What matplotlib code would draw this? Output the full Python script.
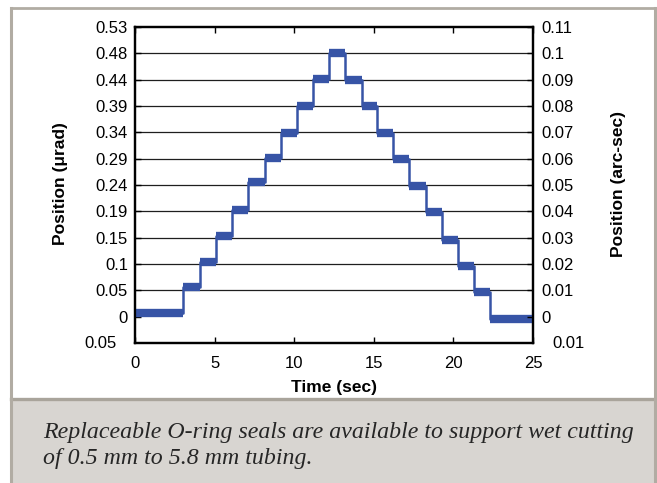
import matplotlib
matplotlib.use('Agg')
import matplotlib.pyplot as plt
from matplotlib.patches import Rectangle
from matplotlib.lines import Line2D
from matplotlib.transforms import offset_copy

# ---- data ----
step_times = [0, 3.02, 4.08, 5.09, 6.09, 7.10, 8.17, 9.17, 10.15, 11.20, 12.19,
              13.19, 14.24, 15.22, 16.23, 17.21, 18.26, 19.27, 20.27, 21.27, 22.30, 25]
plateau_levels = [0.007, 0.054, 0.101, 0.149, 0.196, 0.248, 0.293, 0.339, 0.388, 0.438, 0.485,
                  0.436, 0.388, 0.338, 0.290, 0.241, 0.192, 0.142, 0.094, 0.046, -0.004]

left_tick_values = [0, 0.0485, 0.097, 0.1454, 0.1939, 0.2424, 0.2909, 0.3394,
                    0.3878, 0.4363, 0.4848, 0.5333]
left_tick_labels = ['0', '0.05', '0.1', '0.15', '0.19', '0.24', '0.29', '0.34',
                    '0.39', '0.44', '0.48', '0.53']
left_bottom_value = -0.0485
left_bottom_label = '0.05'

right_tick_values = [0, 0.01, 0.02, 0.03, 0.04, 0.05, 0.06, 0.07, 0.08, 0.09, 0.10, 0.11]
right_tick_labels = ['0', '0.01', '0.02', '0.03', '0.04', '0.05', '0.06', '0.07',
                     '0.08', '0.09', '0.1', '0.11']
right_bottom_value = -0.01
right_bottom_label = '0.01'

x_ticks = [0, 5, 10, 15, 20, 25]

caption_lines = ["Replaceable O-ring seals are available to support wet cutting",
                 "of 0.5 mm to 5.8 mm tubing."]

W, H = 657, 483
LINE = '#3754a6'
SANS = ['Liberation Sans', 'DejaVu Sans']

fig = plt.figure(figsize=(W / 100, H / 100), dpi=100)
fig.patch.set_facecolor('white')

def fr(x, y):
    return x / W, 1 - y / H

# caption box and outer frame
border = '#b1aca3'
fig.add_artist(Rectangle((11 / W, 0), (655 - 11) / W, (483 - 399) / H,
                         transform=fig.transFigure, facecolor='#d8d5d1',
                         edgecolor='none', zorder=0))
fig.add_artist(Line2D([11 / W, 655 / W], [1 - 399 / H] * 2, transform=fig.transFigure,
                      color='#a9a49b', lw=2.4, zorder=1))
fig.add_artist(Line2D([11 / W, 655 / W], [1 - 8 / H] * 2, transform=fig.transFigure,
                      color=border, lw=2.0, zorder=1))
fig.add_artist(Line2D([11 / W] * 2, [0, 1 - 8 / H], transform=fig.transFigure,
                      color=border, lw=2.2, zorder=1))
fig.add_artist(Line2D([655 / W] * 2, [0, 1 - 8 / H], transform=fig.transFigure,
                      color=border, lw=2.2, zorder=1))

ax = fig.add_axes([135 / W, 1 - 343 / H, 398 / W, 316 / H])
ax.set_xlim(0, 25)
ax.set_ylim(left_bottom_value, left_tick_values[-1])

for yv in left_tick_values[1:-1]:
    ax.axhline(yv, color='#1e1e1e', lw=0.9, zorder=1)

ax.hlines(plateau_levels, step_times[:-1], step_times[1:], colors=LINE, lw=6,
          capstyle='butt', zorder=3)
ax.step(step_times, plateau_levels + [plateau_levels[-1]], where='post', color=LINE,
        lw=1.8, zorder=3)

ax.set_xticks(x_ticks)
ax.set_xticklabels([str(v) for v in x_ticks])
ax.set_yticks(left_tick_values)
ax.set_yticklabels(left_tick_labels)
ax.tick_params(axis='x', direction='in', length=4, width=1, top=True, pad=9,
               labelsize=12, colors='black')
ax.tick_params(axis='y', direction='in', length=4, width=1, pad=5, labelsize=12)
for s in ax.spines.values():
    s.set_linewidth(1.6)
for lab in ax.get_xticklabels() + ax.get_yticklabels():
    lab.set_fontfamily(SANS)

ax.text(0, left_bottom_value, left_bottom_label,
        transform=offset_copy(ax.get_yaxis_transform(), fig, x=-18, y=0, units='dots'),
        ha='right', va='center', fontsize=12, family=SANS)

ax2 = ax.twinx()
ax2.set_ylim(right_bottom_value, right_tick_values[-1])
ax2.set_yticks(right_tick_values)
ax2.set_yticklabels(right_tick_labels)
ax2.tick_params(axis='y', direction='in', length=4, width=1, pad=6, labelsize=12)
for lab in ax2.get_yticklabels():
    lab.set_fontfamily(SANS)
for s in ax2.spines.values():
    s.set_linewidth(1.6)
ax2.text(1, right_bottom_value, right_bottom_label,
         transform=offset_copy(ax2.get_yaxis_transform(), fig, x=19, y=0, units='dots'),
         ha='left', va='center', fontsize=12, family=SANS)

fig.text(*fr(61, 184), 'Position (\u03bcrad)', rotation=90, ha='center', va='center',
         fontsize=12.5, fontweight='bold', family=SANS)
fig.text(*fr(618, 184), 'Position (arc-sec)', rotation=90, ha='center', va='center',
         fontsize=12.5, fontweight='bold', family=SANS)
fig.text(*fr(334, 392), 'Time (sec)', ha='center', va='baseline',
         fontsize=12.5, fontweight='bold', family=SANS)

fig.text(*fr(43, 438), caption_lines[0], ha='left', va='baseline', fontsize=17.2,
         style='italic', family=['Liberation Serif', 'DejaVu Serif'], color='#262626')
fig.text(*fr(43, 464), caption_lines[1], ha='left', va='baseline', fontsize=17.2,
         style='italic', family=['Liberation Serif', 'DejaVu Serif'], color='#262626')

fig.savefig('out.png', dpi=100)
